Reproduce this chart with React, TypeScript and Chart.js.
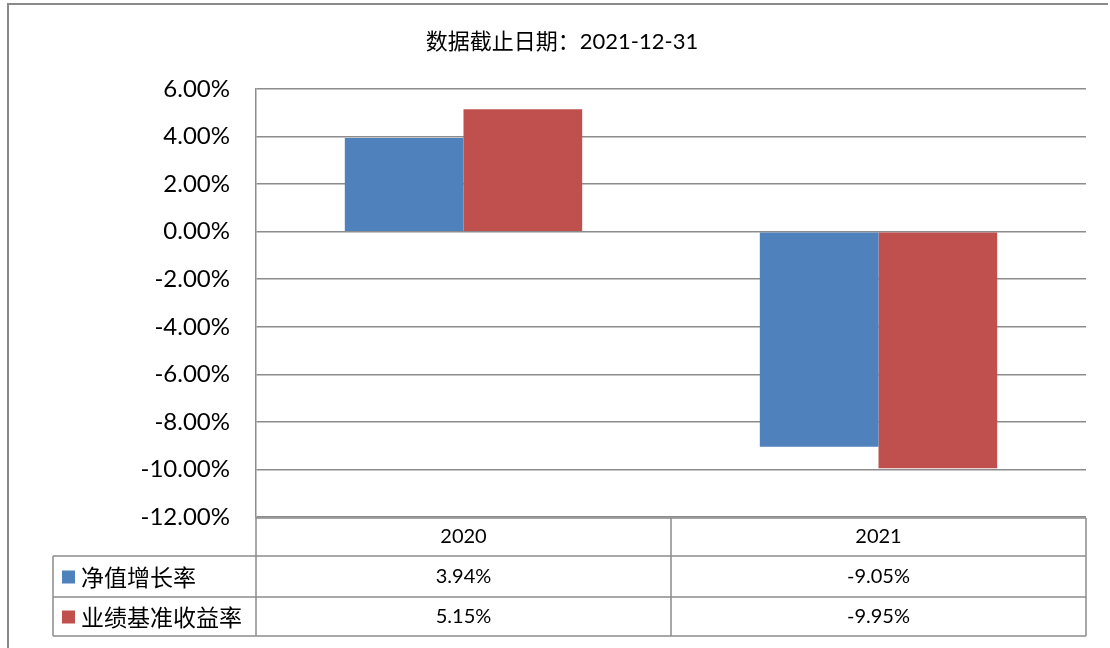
import React, { useEffect, useRef } from "react";
import { Chart, registerables } from "chart.js";

Chart.register(...registerables);

const categories = ["2020", "2021"];
const seriesNames = ["净值增长率", "业绩基准收益率"];
const navGrowth = [3.94, -9.05];
const benchmark = [5.15, -9.95];
const navLabels = ["3.94%", "-9.05%"];
const benchLabels = ["5.15%", "-9.95%"];
const titleCn = "数据截止日期：";
const titleDate = "2021-12-31";
const colors = ["#4F81BD", "#C0504D"];

const LINE = "#8c8c8c";
const NUM_FONT = "Lato, 'Noto Sans', sans-serif";
const CJK_FONT = "'Noto Sans CJK SC', sans-serif";

const tablePlugin = {
  id: "tablePlugin",
  afterDraw(chart: any) {
    const ctx = chart.ctx as CanvasRenderingContext2D;
    const area = chart.chartArea;
    const x = chart.scales.x;
    const left = area.left;
    const right = area.right;
    const mid = (x.getPixelForValue(0) + x.getPixelForValue(1)) / 2;
    const tableLeft = 53;
    const yTop = area.bottom + 1;
    const y1 = 556;
    const y2 = 597;
    const y3 = 636;
    ctx.save();
    // outer frame
    ctx.strokeStyle = "#8a8a8a";
    ctx.lineWidth = 2;
    ctx.beginPath();
    ctx.moveTo(8, 700);
    ctx.lineTo(8, 4);
    ctx.lineTo(1108, 4);
    ctx.stroke();

    ctx.strokeStyle = LINE;
    ctx.lineWidth = 1.5;
    ctx.beginPath();
    ctx.moveTo(left, yTop);
    ctx.lineTo(right, yTop);
    for (const yy of [y1, y2, y3]) {
      ctx.moveTo(tableLeft, yy);
      ctx.lineTo(right, yy);
    }
    ctx.moveTo(tableLeft, y1);
    ctx.lineTo(tableLeft, y3);
    ctx.moveTo(left, area.bottom);
    ctx.lineTo(left, y3);
    ctx.moveTo(mid, yTop);
    ctx.lineTo(mid, y3);
    ctx.moveTo(right, yTop);
    ctx.lineTo(right, y3);
    ctx.stroke();

    // texts
    ctx.fillStyle = "#000";
    ctx.textAlign = "center";
    ctx.textBaseline = "middle";
    ctx.font = `20px ${NUM_FONT}`;
    const cx = [(left + mid) / 2, (mid + right) / 2];
    categories.forEach((c, i) => ctx.fillText(c, cx[i], (yTop + y1) / 2));
    navLabels.forEach((t, i) => ctx.fillText(t, cx[i], (y1 + y2) / 2));
    benchLabels.forEach((t, i) => ctx.fillText(t, cx[i], (y2 + y3) / 2));

    // legend keys
    const rows = [(y1 + y2) / 2, (y2 + y3) / 2];
    ctx.textAlign = "left";
    ctx.font = `23px ${CJK_FONT}`;
    seriesNames.forEach((n, i) => {
      ctx.fillStyle = colors[i];
      ctx.fillRect(62, rows[i] - 6, 13, 13);
      ctx.fillStyle = "#000";
      ctx.fillText(n, 81, rows[i] + 1);
    });

    // title
    ctx.textBaseline = "alphabetic";
    ctx.font = `22px ${CJK_FONT}`;
    const w1 = ctx.measureText(titleCn).width;
    ctx.font = `22px ${NUM_FONT}`;
    const w2 = ctx.measureText(titleDate).width;
    const start = 562 - (w1 + w2) / 2;
    ctx.font = `22px ${CJK_FONT}`;
    ctx.fillText(titleCn, start, 49);
    ctx.font = `22px ${NUM_FONT}`;
    ctx.fillText(titleDate, start + w1, 49);
    ctx.restore();
  },
};

export default function App() {
  const ref = useRef<HTMLCanvasElement | null>(null);
  useEffect(() => {
    if (!ref.current) return;
    const chart = new Chart(ref.current, {
      type: "bar",
      data: {
        labels: categories,
        datasets: [
          { label: seriesNames[0], data: navGrowth, backgroundColor: colors[0], borderWidth: 0 },
          { label: seriesNames[1], data: benchmark, backgroundColor: colors[1], borderWidth: 0 },
        ],
      },
      options: {
        animation: false,
        responsive: false,
        maintainAspectRatio: false,
        layout: { padding: { left: 0, right: 24, top: 89, bottom: 131 } },
        plugins: { legend: { display: false }, tooltip: { enabled: false }, title: { display: false } },
        datasets: { bar: { categoryPercentage: 0.572, barPercentage: 1 } },
        scales: {
          x: { display: false },
          y: {
            min: -12,
            max: 6,
            afterFit: (s: any) => {
              s.width = 256;
            },
            ticks: {
              stepSize: 2,
              padding: 26,
              color: "#000",
              font: { family: NUM_FONT, size: 24 },
              callback: (v: any) => Number(v).toFixed(2) + "%",
            },
            grid: { color: LINE, lineWidth: 1.5, drawTicks: false },
            border: { display: true, color: LINE, width: 1.5 },
          },
        },
      },
      plugins: [tablePlugin],
    });
    return () => chart.destroy();
  }, []);
  return (
    <div style={{ position: "absolute", left: 0, top: 0, width: 1110, height: 648, background: "#fff" }}>
      <canvas ref={ref} width={1110} height={648} style={{ display: "block" }} />
    </div>
  );
}
